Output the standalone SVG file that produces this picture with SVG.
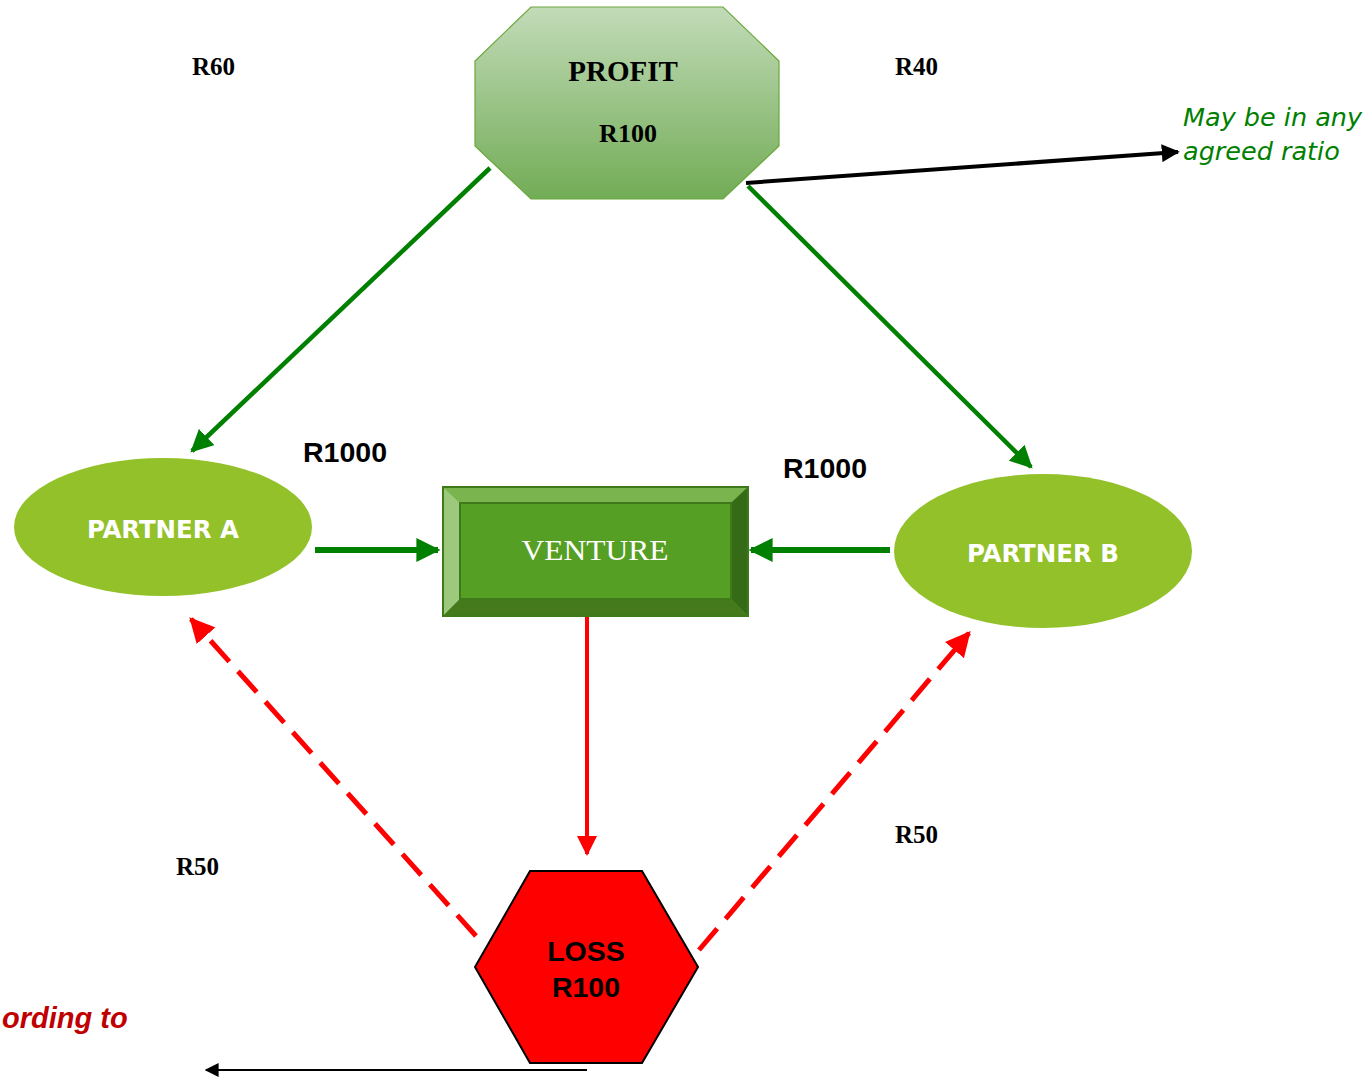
<svg xmlns="http://www.w3.org/2000/svg" width="1372" height="1077" viewBox="0 0 1372 1077">
  <defs>
    <linearGradient id="profitFill" x1="0" y1="0" x2="0" y2="1">
      <stop offset="0" stop-color="#c2dbb8"/>
      <stop offset="1" stop-color="#72ac56"/>
    </linearGradient>
    <marker id="headGreen" viewBox="0 0 10 10" refX="9" refY="5" markerWidth="5" markerHeight="5" orient="auto" markerUnits="strokeWidth">
      <path d="M0,0 L10,5 L0,10 z" fill="#008000"/>
    </marker>
    <marker id="headGreenWide" viewBox="0 0 10 10" refX="9" refY="5" markerWidth="4" markerHeight="4" orient="auto" markerUnits="strokeWidth">
      <path d="M0,0 L10,5 L0,10 z" fill="#008000"/>
    </marker>
    <marker id="headRed" viewBox="0 0 10 10" refX="9" refY="5" markerWidth="5" markerHeight="5" orient="auto" markerUnits="strokeWidth">
      <path d="M0,0 L10,5 L0,10 z" fill="#ff0000"/>
    </marker>
    <marker id="headBlack" viewBox="0 0 10 10" refX="9" refY="5" markerWidth="4.5" markerHeight="4.5" orient="auto" markerUnits="strokeWidth">
      <path d="M0,0 L10,5 L0,10 z" fill="#000"/>
    </marker>
    <marker id="headBlackThin" viewBox="0 0 10 10" refX="9" refY="5" markerWidth="7" markerHeight="7" orient="auto" markerUnits="strokeWidth">
      <path d="M0,0 L10,5 L0,10 z" fill="#000"/>
    </marker>
  </defs>
  <style>
    .serifB { font-family: "Liberation Serif", "DejaVu Serif", serif; font-weight: bold; fill: #000; }
    .partner { font-family: "DejaVu Sans Condensed", "DejaVu Sans", sans-serif; font-weight: bold; font-size: 25px; fill: #fff; text-anchor: middle; }
    .amount { font-family: "Liberation Sans", Arial, sans-serif; font-weight: bold; font-size: 28.5px; fill: #000; }
    .note { font-family: "DejaVu Sans", sans-serif; font-style: italic; font-size: 25.5px; fill: #008000; }
  </style>

  <rect width="1372" height="1077" fill="#fff"/>

  <!-- connectors -->
  <g id="connectors" fill="none">
    <line x1="490" y1="168" x2="192" y2="451" stroke="#008000" stroke-width="4.5" marker-end="url(#headGreen)"/>
    <line x1="748" y1="186" x2="1031" y2="467" stroke="#008000" stroke-width="4.5" marker-end="url(#headGreen)"/>
    <line x1="746" y1="183" x2="1178" y2="152" stroke="#000" stroke-width="4" marker-end="url(#headBlack)"/>
    <line x1="315" y1="550" x2="438" y2="550" stroke="#008000" stroke-width="6" marker-end="url(#headGreenWide)"/>
    <line x1="890" y1="550" x2="751" y2="550" stroke="#008000" stroke-width="6" marker-end="url(#headGreenWide)"/>
    <line x1="587" y1="617" x2="587" y2="854" stroke="#ff0000" stroke-width="4" marker-end="url(#headRed)"/>
    <line x1="476" y1="936" x2="191" y2="619" stroke="#ff0000" stroke-width="5" stroke-dasharray="28 13" marker-end="url(#headRed)"/>
    <line x1="699" y1="950" x2="969" y2="633" stroke="#ff0000" stroke-width="5" stroke-dasharray="28 13" marker-end="url(#headRed)"/>
    <line x1="587" y1="1070" x2="206" y2="1070" stroke="#000" stroke-width="2" marker-end="url(#headBlackThin)"/>
  </g>

  <!-- profit -->
  <g id="profit">
    <polygon points="531,7 723,7 779,61 779,146 723,199 531,199 475,146 475,61" fill="url(#profitFill)" stroke="#6aa83c" stroke-width="1.2"/>
    <text class="serifB" x="623" y="81" font-size="29" text-anchor="middle">PROFIT</text>
    <text class="serifB" x="628" y="142" font-size="26" text-anchor="middle">R100</text>
  </g>

  <!-- partner A -->
  <g id="partnerA">
    <ellipse cx="163" cy="527" rx="149" ry="69" fill="#93c12a"/>
    <text class="partner" x="163" y="538" textLength="152" lengthAdjust="spacingAndGlyphs">PARTNER A</text>
  </g>

  <!-- partner B -->
  <g id="partnerB">
    <ellipse cx="1043" cy="551" rx="149" ry="77" fill="#93c12a"/>
    <text class="partner" x="1043" y="562" textLength="152" lengthAdjust="spacingAndGlyphs">PARTNER B</text>
  </g>

  <!-- venture: bevelled box -->
  <g id="venture">
    <rect x="443" y="487" width="305" height="129" fill="#55a024" stroke="#3f7a1a" stroke-width="2"/>
    <polygon points="443,487 748,487 731,503 460,503" fill="#7ab44f"/>
    <polygon points="443,487 460,503 460,599 443,616" fill="#9cc97b"/>
    <polygon points="748,487 748,616 731,599 731,503" fill="#356b16"/>
    <polygon points="443,616 460,599 731,599 748,616" fill="#447a1b"/>
    <rect x="460" y="503" width="271" height="96" fill="#55a024" stroke="#3f7a1a" stroke-width="2"/>
    <rect x="443" y="487" width="305" height="129" fill="none" stroke="#3f7a1a" stroke-width="2"/>
    <text x="595" y="560" font-family="Liberation Serif, DejaVu Serif, serif" font-size="29" fill="#fff" text-anchor="middle" textLength="147" lengthAdjust="spacingAndGlyphs">VENTURE</text>
  </g>

  <!-- loss -->
  <g id="loss">
    <polygon points="530,871 642,871 698,967 642,1063 530,1063 475,967" fill="#ff0000" stroke="#000" stroke-width="2"/>
    <text class="amount" x="586" y="961" font-size="30.5" text-anchor="middle">LOSS</text>
    <text class="amount" x="586" y="997" font-size="30.5" text-anchor="middle">R100</text>
  </g>

  <!-- labels -->
  <g id="labels">
    <text class="serifB" x="192" y="75" font-size="25">R60</text>
    <text class="serifB" x="895" y="75" font-size="25">R40</text>
    <text class="serifB" x="176" y="875" font-size="25">R50</text>
    <text class="serifB" x="895" y="843" font-size="25">R50</text>
    <text class="amount" x="303" y="462">R1000</text>
    <text class="amount" x="783" y="478">R1000</text>
    <text class="note" x="1183" y="126">May be in any</text>
    <text class="note" x="1183" y="160">agreed ratio</text>
    <text x="2" y="1028" font-family="Liberation Sans, Arial, sans-serif" font-weight="bold" font-style="italic" font-size="29" fill="#c00000">ording to</text>
  </g>
</svg>
